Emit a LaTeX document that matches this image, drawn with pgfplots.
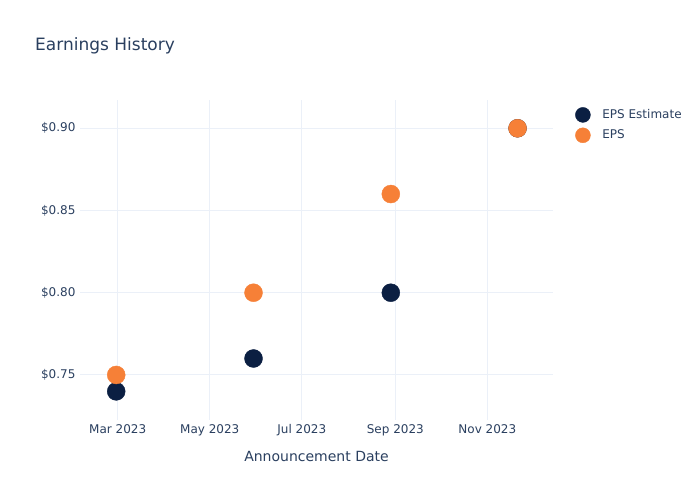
\documentclass[border=0pt]{standalone}
\usepackage{pgfplots}
\pgfplotsset{compat=1.18}
\usepackage{fontspec}
\setmainfont{DejaVu Sans}
\definecolor{navy}{HTML}{0B1F42}
\definecolor{orng}{HTML}{F68037}
\definecolor{txt}{HTML}{2A3F5F}
\definecolor{grd}{HTML}{EBF0F8}
\begin{document}
\begin{tikzpicture}[x=1pt,y=1pt]
\useasboundingbox (0,0) rectangle (700,500);
\node[anchor=west, text=txt, font=\fontsize{17}{20}\selectfont, inner sep=0pt] at (35,454) {Earnings History};
\begin{axis}[at={(80pt,80pt)}, anchor=south west, scale only axis, width=473pt, height=320pt,
 xmin=34, xmax=347.5, ymin=0.7226, ymax=0.9172,
 axis line style={draw=none}, major tick length=0,
 grid=major, grid style={grd, line width=1pt},
 xtick={59,120,181,243,304}, xticklabels={Mar 2023, May 2023, Jul 2023, Sep 2023, Nov 2023},
 ytick={0.75,0.8,0.85,0.9}, yticklabels={\$0.75,\$0.80,\$0.85,\$0.90},
 ticklabel style={font=\fontsize{12}{14}\selectfont, text=txt},
 xticklabel style={yshift=-1pt},
 yticklabel style={xshift=-1pt},
 xlabel={Announcement Date},
 xlabel style={font=\fontsize{14}{16}\selectfont, text=txt, at={(axis description cs:0.5,0)}, anchor=center, yshift=-36pt},
 legend style={at={(axis description cs:1,1)}, anchor=north west, xshift=19pt, yshift=-5pt, draw=none, fill=none, font=\fontsize{12}{14}\selectfont, text=txt, row sep=5pt},
 legend cell align=left,
 legend image code/.code={\path[draw=none,fill=none] (0pt,0pt) -- (25pt,0pt); \fill[#1] (7.5pt,0pt) circle (7.5pt);},
]
\addplot[only marks, mark=*, mark size=9pt, color=navy, mark options={draw=navy, fill=navy}] coordinates {(58,0.74) (149,0.76) (240,0.80) (324,0.90)};
\addlegendentry{EPS Estimate}
\addplot[only marks, mark=*, mark size=9pt, color=orng, mark options={draw=orng, fill=orng}] coordinates {(58,0.75) (149,0.80) (240,0.86) (324,0.90)};
\addlegendentry{EPS}
\end{axis}
\end{tikzpicture}
\end{document}
